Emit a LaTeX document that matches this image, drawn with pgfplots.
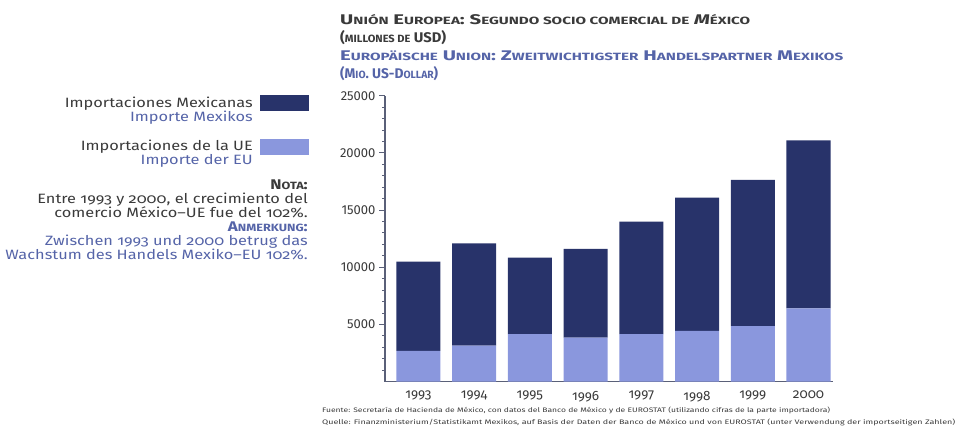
\documentclass[border=0pt]{standalone}
\usepackage{fontspec}
\setmainfont{Fira Sans}[Numbers=OldStyle]
\newfontfamily\lin{Fira Sans}[Numbers=Lining]
\usepackage{graphicx}
\usepackage{pgfplots}
\pgfplotsset{compat=1.18}
\definecolor{darkbar}{HTML}{28336A}
\definecolor{lightbar}{HTML}{8A97DD}
\definecolor{txt}{HTML}{3A3A3A}
\definecolor{detxt}{HTML}{5564A8}
\definecolor{axcol}{HTML}{5A6078}
\newcommand\tbig{\fontsize{14}{15}\selectfont}
\newcommand\sm[1]{{\fontsize{10.5}{11}\selectfont #1}}
\newcommand\body{\fontsize{13.5}{14}\selectfont}
\newcommand\W[1]{\scalebox{1.21}[1]{#1}}
\newcommand\R[2]{\resizebox{#1pt}{\height}{#2}}
\pgfplotstableread{
x eu mx
0 2700 7800
1 3150 8950
2 4150 6700
3 3850 7750
4 4150 9850
5 4450 11650
6 4850 12800
7 6400 14700
}\datatable
\begin{document}
\begin{tikzpicture}[x=1pt,y=1pt]
\useasboundingbox (0,0) rectangle (960,439);
% Title
\node[anchor=base west,inner sep=0,text=txt] at (340,414) {\R{410}{\tbig\bfseries U\sm{NIÓN} E\sm{UROPEA}: S\sm{EGUNDO SOCIO COMERCIAL DE} \textit{M}\sm{ÉXICO}}};
\node[anchor=base west,inner sep=0,text=txt] at (340,396) {\R{106}{\tbig\bfseries (\sm{MILLONES DE} USD)}};
\node[anchor=base west,inner sep=0,text=detxt] at (340,378) {\R{503}{\tbig\bfseries E\sm{UROPÄISCHE} U\sm{NION}: Z\sm{WEITWICHTIGSTER} H\sm{ANDELSPARTNER} M\sm{EXIKOS}}};
\node[anchor=base west,inner sep=0,text=detxt] at (340,360) {\R{98}{\tbig\bfseries (M\sm{IO}. US-D\sm{OLLAR})}};
% Legend
\node[anchor=base east,inner sep=0,text=txt] at (253,331) {\W{\body Importaciones Mexicanas}};
\node[anchor=base east,inner sep=0,text=detxt] at (253,317) {\W{\body Importe Mexikos}};
\fill[darkbar] (260,328) rectangle (309,344);
\node[anchor=base east,inner sep=0,text=txt] at (253,288) {\W{\body Importaciones de la UE}};
\node[anchor=base east,inner sep=0,text=detxt] at (253,274) {\W{\body Importe der EU}};
\fill[lightbar] (260,284) rectangle (309,300);
% Note
\node[anchor=base east,inner sep=0,text=txt] at (308,249) {\W{\tbig\bfseries N\sm{OTA}:}};
\node[anchor=base east,inner sep=0,text=txt] at (308,235) {\W{\body Entre 1993 y 2000, el crecimiento del}};
\node[anchor=base east,inner sep=0,text=txt] at (308,221) {\W{\body comercio México--UE fue del 102\%.}};
\node[anchor=base east,inner sep=0,text=detxt] at (308,207) {\W{\tbig\bfseries A\sm{NMERKUNG}:}};
\node[anchor=base east,inner sep=0,text=detxt] at (308,193) {\W{\body Zwischen 1993 und 2000 betrug das}};
\node[anchor=base east,inner sep=0,text=detxt] at (308,179) {\W{\body Wachstum des Handels Mexiko--EU 102\%.}};
% Sources
\node[anchor=base west,inner sep=0,text=txt] at (322,27) {\R{508}{\fontsize{6.5}{7}\selectfont Fuente: Secretaría de Hacienda de México, con datos del Banco de México y de EUROSTAT (utilizando cifras de la parte importadora)}};
\node[anchor=base west,inner sep=0,text=txt] at (322,15) {\R{633}{\fontsize{6.5}{7}\selectfont Quelle: Finanzministerium/Statistikamt Mexikos, auf Basis der Daten der Banco de México und von EUROSTAT (unter Verwendung der importseitigen Zahlen)}};
\begin{axis}[
  at={(385pt,57.3pt)}, anchor=south west,
  scale only axis, width=448pt, height=286pt,
  xmin=-0.6, xmax=7.44, ymin=0, ymax=25000,
  ybar stacked, bar width=44pt,
  axis x line=bottom, axis y line=left,
  axis line style={-,draw=axcol,line width=1.2pt},
  xtick=data, xticklabels={1993,1994,1995,1996,1997,1998,1999,2000},
  x tick style={draw=none},
  ytick={5000,10000,15000,20000,25000},
  minor ytick={1000,2000,3000,4000,6000,7000,8000,9000,11000,12000,13000,14000,16000,17000,18000,19000,21000,22000,23000,24000},
  tick align=outside,
  major tick length=6pt, minor tick length=3pt,
  y tick style={draw=axcol,line width=1pt},
  /pgf/number format/assume math mode=true,
  scaled y ticks=false,
  yticklabel style={/pgf/number format/1000 sep={},font=\lin\fontsize{13}{14}\selectfont,text=txt},
  xticklabel style={font=\fontsize{13.5}{14}\selectfont,text=txt},
  xticklabel shift=0pt,
]
\addplot[fill=lightbar,draw=none] table[x=x,y=eu]{\datatable};
\addplot[fill=darkbar,draw=none] table[x=x,y=mx]{\datatable};
\end{axis}
\end{tikzpicture}
\end{document}
